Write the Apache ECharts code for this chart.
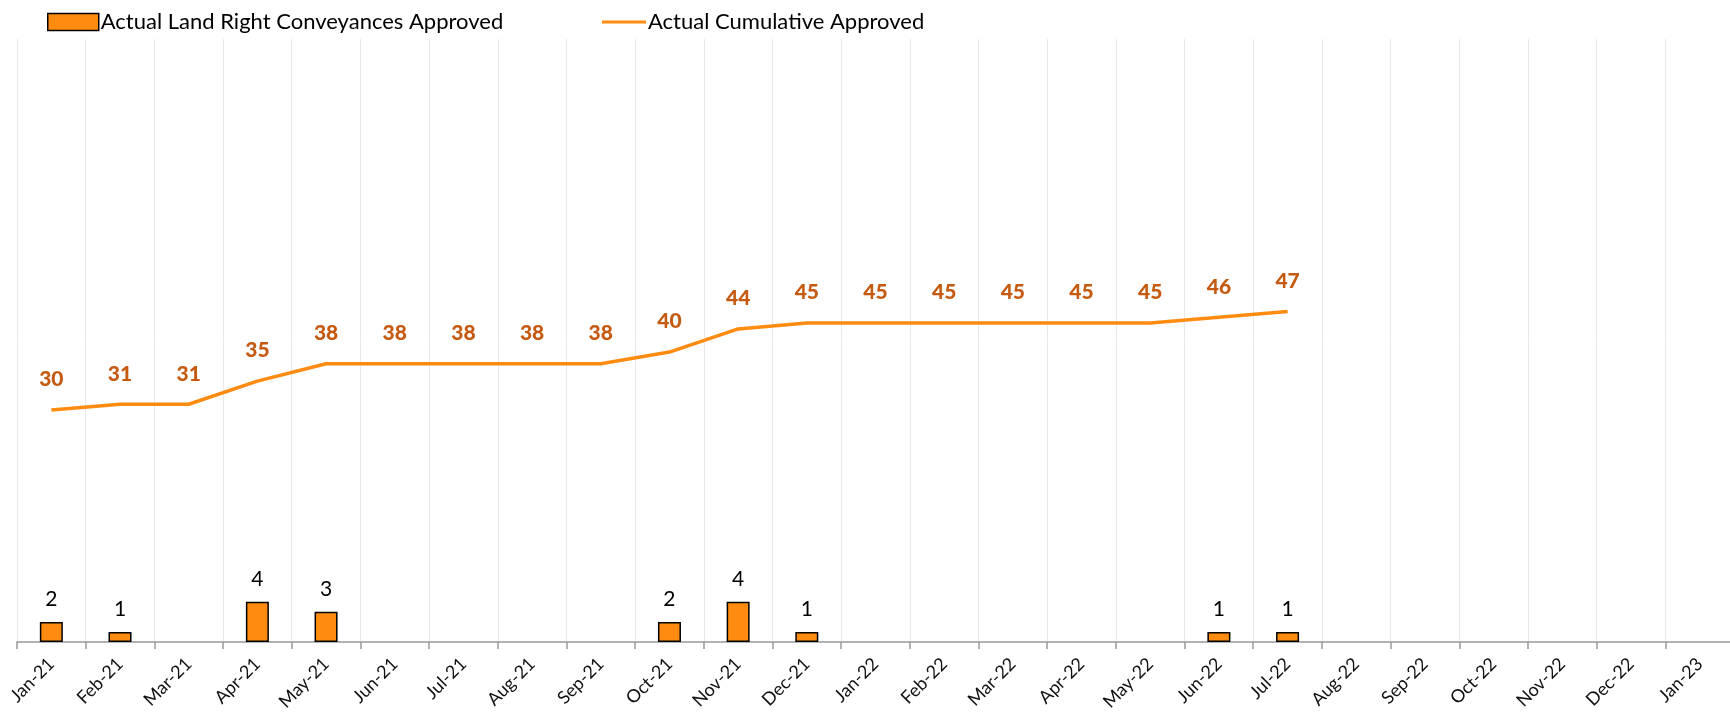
<!DOCTYPE html>
<html>
<head>
<meta charset="utf-8">
<script src="https://cdn.jsdelivr.net/npm/echarts@6/dist/echarts.min.js"></script>
<style>
  html, body { margin: 0; padding: 0; background: #fff; }
  #chart { width: 1730px; height: 715px; }
</style>
</head>
<body>
<div id="chart"></div>
<script>
// Months on the category axis
const months = ['Jan-21', 'Feb-21', 'Mar-21', 'Apr-21', 'May-21', 'Jun-21', 'Jul-21', 'Aug-21',
  'Sep-21', 'Oct-21', 'Nov-21', 'Dec-21', 'Jan-22', 'Feb-22', 'Mar-22', 'Apr-22', 'May-22',
  'Jun-22', 'Jul-22', 'Aug-22', 'Sep-22', 'Oct-22', 'Nov-22', 'Dec-22', 'Jan-23'];

// Conveyances approved in each month (null = none that month)
const monthlyApproved = [2, 1, null, 4, 3, null, null, null, null, 2, 4, 1, null, null, null,
  null, null, 1, 1, null, null, null, null, null, null];

// Running total of approvals (null = not reported yet)
const cumulativeApproved = [30, 31, 31, 35, 38, 38, 38, 38, 38, 40, 44, 45, 45, 45, 45, 45, 45,
  46, 47, null, null, null, null, null, null];

const barName = 'Actual Land Right Conveyances Approved';
const lineName = 'Actual Cumulative Approved';
const orange = '#FF8C11';
const FONT = 'Lato, "Open Sans", sans-serif';

const chart = echarts.init(document.getElementById('chart'), null, { renderer: 'canvas' });

chart.setOption({
  animation: false,
  textStyle: { fontFamily: FONT },
  legend: [
    {
      data: [barName],
      left: 42, top: 6,
      itemWidth: 51, itemHeight: 17, itemGap: 8,
      icon: 'rect',
      itemStyle: { color: orange, borderColor: '#000', borderWidth: 1.5 },
      textStyle: { fontFamily: FONT, fontSize: 22, color: '#000', padding: [0, 0, 0, -3] }
    },
    {
      data: [lineName],
      left: 597, top: 6,
      itemWidth: 44, itemHeight: 17,
      icon: 'path://M0,7L44,7L44,10L0,10Z',
      itemStyle: { color: orange },
      textStyle: { fontFamily: FONT, fontSize: 22, color: '#000', padding: [0, 0, 0, -3] }
    }
  ],
  grid: {
    left: 17, top: 39, width: 1717, height: 603,
    containLabel: false,
    outerBoundsMode: 'none'
  },
  xAxis: {
    type: 'category',
    data: months,
    boundaryGap: true,
    axisLine: { lineStyle: { color: '#999', width: 1.5 } },
    axisTick: { show: true, length: 7, lineStyle: { color: '#999', width: 1.5 } },
    splitLine: { show: true, lineStyle: { color: '#e9e9e9', width: 1 } },
    axisLabel: {
      rotate: 45, interval: 0, fontSize: 18, color: '#111', margin: 19, fontFamily: FONT
    }
  },
  yAxis: [
    { type: 'value', min: 0, max: 60, show: false, splitLine: { show: false } },
    { type: 'value', min: -10, max: 94, show: false, splitLine: { show: false } }
  ],
  series: [
    {
      name: barName,
      type: 'bar',
      yAxisIndex: 0,
      data: monthlyApproved,
      barWidth: 23,
      itemStyle: { color: orange, borderColor: '#000', borderWidth: 1.5 },
      label: {
        show: true, position: 'top', distance: 12,
        fontSize: 21, color: '#000', fontFamily: FONT
      }
    },
    {
      name: lineName,
      type: 'line',
      yAxisIndex: 1,
      data: cumulativeApproved,
      symbol: 'circle',
      symbolSize: 0,
      showSymbol: true,
      connectNulls: false,
      lineStyle: { color: orange, width: 3.5 },
      itemStyle: { color: orange },
      label: {
        show: true, position: 'top', distance: 20,
        fontSize: 21, fontWeight: 900, color: '#C55A11', fontFamily: FONT
      }
    }
  ]
});
</script>
</body>
</html>
